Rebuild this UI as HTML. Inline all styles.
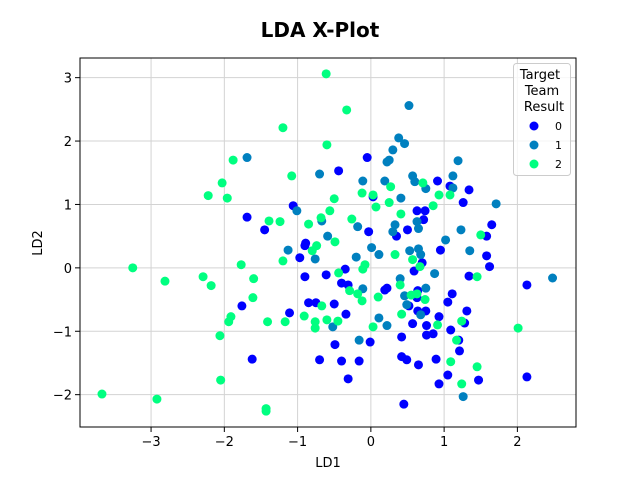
<!DOCTYPE html>
<html><head><meta charset="utf-8"><style>
body{margin:0;background:#fff;}
svg{display:block;font-family:"DejaVu Sans","Liberation Sans",sans-serif;}
</style></head><body>
<svg id="chart" width="640" height="480" viewBox="0 0 640 480">
<text x="320" y="37" text-anchor="middle" font-size="20" font-weight="bold" fill="#000">LDA X-Plot</text>
<g id="grid"></g>
<g id="points"></g>
<rect x="80" y="58" width="496" height="369" fill="none" stroke="#000" stroke-width="1"/>
<g id="ticks"></g>
<text x="328" y="467" text-anchor="middle" font-size="13">LD1</text>
<text x="0" y="0" transform="translate(42,243) rotate(-90)" text-anchor="middle" font-size="13">LD2</text>
<g>
<rect x="513.5" y="63.5" width="57" height="112" rx="3" fill="#fff" fill-opacity="0.8" stroke="#ccc"/>
<text x="541" y="79" text-anchor="middle" font-size="13"><tspan x="540" dy="0">Target</tspan><tspan x="542" dy="16">Team</tspan><tspan x="544" dy="16">Result</tspan></text>
<g><circle cx="534" cy="126" r="4.5" fill="#0000ff"/><text x="555" y="130" font-size="11">0</text></g>
<g><circle cx="534" cy="145" r="4.5" fill="#0080bf"/><text x="555" y="149" font-size="11">1</text></g>
<g><circle cx="534" cy="164" r="4.5" fill="#00ff80"/><text x="555" y="168" font-size="11">2</text></g>
</g>
</svg>
<script>
const xTicks=[-3,-2,-1,0,1,2];
const yTicks=[-2,-1,0,1,2,3];
const classColors=["#0000ff","#0080bf","#00ff80"];
const class0X=[-1.06,-1.69,-1.45,-0.89,-0.90,-0.97,-0.90,-0.61,-1.76,-0.85,-0.75,-1.11,-1.62,-0.70,-0.05,-0.44,0.91,1.08,1.34,1.26,0.03,0.63,0.74,0.72,-0.03,0.35,0.50,1.58,1.65,0.95,1.58,1.62,0.70,0.59,-0.35,1.34,-0.40,-0.31,0.19,0.22,0.64,0.63,1.11,1.05,-0.50,-0.34,0.52,0.64,0.75,0.93,1.31,1.28,0.57,0.76,0.76,0.85,1.09,0.42,1.20,-0.01,-0.49,1.21,-0.40,-0.16,0.42,0.49,0.65,0.89,-0.31,1.05,0.93,1.47,2.13,2.13,0.45];
const class0Y=[0.98,0.80,0.60,0.39,0.35,0.16,-0.14,-0.11,-0.60,-0.55,-0.55,-0.71,-1.44,-1.45,1.74,1.53,1.37,1.29,1.23,1.03,1.12,0.90,0.90,0.76,0.57,0.50,0.60,0.50,0.68,0.28,0.19,0.02,0.08,-0.05,-0.02,-0.13,-0.24,-0.27,-0.35,-0.32,-0.36,-0.47,-0.41,-0.54,-0.57,-0.73,-0.60,-0.68,-0.68,-0.77,-0.68,-0.87,-0.88,-0.91,-1.06,-1.04,-0.98,-1.09,-1.14,-1.17,-1.21,-1.31,-1.47,-1.47,-1.40,-1.45,-1.53,-1.44,-1.75,-1.69,-1.83,-1.77,-0.27,-1.72,-2.15];
const class1X=[-1.69,-0.70,-1.01,-0.67,-0.59,-1.13,-0.76,0.52,0.38,0.46,0.30,0.25,0.22,1.19,-0.11,0.19,0.57,0.60,0.75,1.12,1.12,0.41,1.71,-0.18,0.33,0.30,0.63,0.65,1.23,1.02,0.01,0.11,-0.20,0.53,0.65,0.68,1.35,0.87,0.40,-0.11,0.75,0.46,0.49,0.68,0.11,0.22,-0.52,-0.16,2.48,1.26];
const class1Y=[1.74,1.48,0.90,0.74,0.50,0.28,0.14,2.56,2.05,1.96,1.86,1.70,1.67,1.69,1.37,1.37,1.45,1.36,1.25,1.45,1.26,1.10,1.01,0.65,0.68,0.57,0.73,0.62,0.60,0.44,0.32,0.21,0.17,0.27,0.30,0.21,0.27,-0.09,-0.17,-0.33,-0.32,-0.44,-0.58,-0.74,-0.79,-0.91,-0.93,-1.14,-0.16,-2.03];
const class2X=[-0.61,-1.20,-0.60,-1.88,-1.08,-2.03,-2.22,-1.96,-1.39,-1.24,-0.85,-0.68,-0.56,-0.74,-0.80,-1.20,-1.77,-3.25,-2.81,-2.29,-2.18,-1.60,-1.61,-0.67,-1.91,-1.94,-1.41,-1.17,-0.91,-0.76,-0.76,-0.60,-2.06,-2.05,-3.67,-2.92,-1.43,-1.43,-0.33,-0.50,-0.26,-0.49,-0.12,0.03,0.07,0.27,0.25,0.41,0.71,0.93,1.08,0.85,0.33,0.57,0.67,-0.08,-0.11,-0.44,-0.29,-0.18,-0.12,0.10,0.40,0.55,0.63,0.74,-0.45,0.03,0.42,0.91,1.17,1.24,1.09,1.45,1.24,2.01,1.50,1.45];
const class2Y=[3.06,2.21,1.94,1.70,1.45,1.34,1.14,1.10,0.74,0.73,0.69,0.79,0.90,0.35,0.27,0.11,0.05,0.00,-0.21,-0.14,-0.28,-0.17,-0.47,-0.60,-0.77,-0.85,-0.85,-0.85,-0.76,-0.85,-0.95,-0.82,-1.07,-1.77,-1.99,-2.07,-2.22,-2.26,2.49,1.09,0.77,0.41,1.18,1.15,0.96,1.28,1.03,0.85,1.34,1.15,1.15,0.98,0.21,0.13,0.02,0.05,-0.02,-0.08,-0.36,-0.41,-0.52,-0.46,-0.27,-0.43,-0.41,-0.50,-0.84,-0.93,-0.73,-0.90,-1.14,-0.84,-1.48,-1.56,-1.83,-0.95,0.52,-0.14];

const NS="http://www.w3.org/2000/svg";
const X0=80,X1=576,Y0=58,Y1=427,XMIN=-3.97,XMAX=2.80,YMIN=-2.51,YMAX=3.31;
function sx(v){return X0+(v-XMIN)/(XMAX-XMIN)*(X1-X0);}
function sy(v){return Y1-(v-YMIN)/(YMAX-YMIN)*(Y1-Y0);}
const grid=document.getElementById('grid'),ticks=document.getElementById('ticks'),pts=document.getElementById('points');
function mk(tag,attrs,parent){const e=document.createElementNS(NS,tag);for(const k in attrs)e.setAttribute(k,attrs[k]);parent.appendChild(e);return e;}
xTicks.forEach(t=>{
  const x=sx(t);
  const g=mk('line',{x1:x,x2:x,y1:Y0,y2:Y1,stroke:'#d3d3d3','stroke-width':1},grid);
  
  
  const tk=mk('line',{x1:x,x2:x,y1:Y1,y2:Y1+5,stroke:'#000'},ticks);
  
  
  const tx=mk('text',{x:x,y:Y1+19,'text-anchor':'middle','font-size':'13'},ticks);
  tx.textContent=t<0?'\u2212'+Math.abs(t):String(t);
  
  
});
yTicks.forEach(t=>{
  const y=sy(t);
  const g=mk('line',{x1:X0,x2:X1,y1:y,y2:y,stroke:'#d3d3d3','stroke-width':1},grid);
  
  
  const tk=mk('line',{x1:X0-5,x2:X0,y1:y,y2:y,stroke:'#000'},ticks);
  
  
  const tx=mk('text',{x:X0-8,y:y+5,'text-anchor':'end','font-size':'13'},ticks);
  tx.textContent=t<0?'\u2212'+Math.abs(t):String(t);
  
  
});
[[class0X,class0Y],[class1X,class1Y],[class2X,class2Y]].forEach((s,ci)=>{
  s[0].forEach((xv,i)=>{
    const c=mk('circle',{cx:sx(xv),cy:sy(s[1][i]),r:4.5,fill:classColors[ci]},pts);
    
    
  });
});
</script>
</body></html>
